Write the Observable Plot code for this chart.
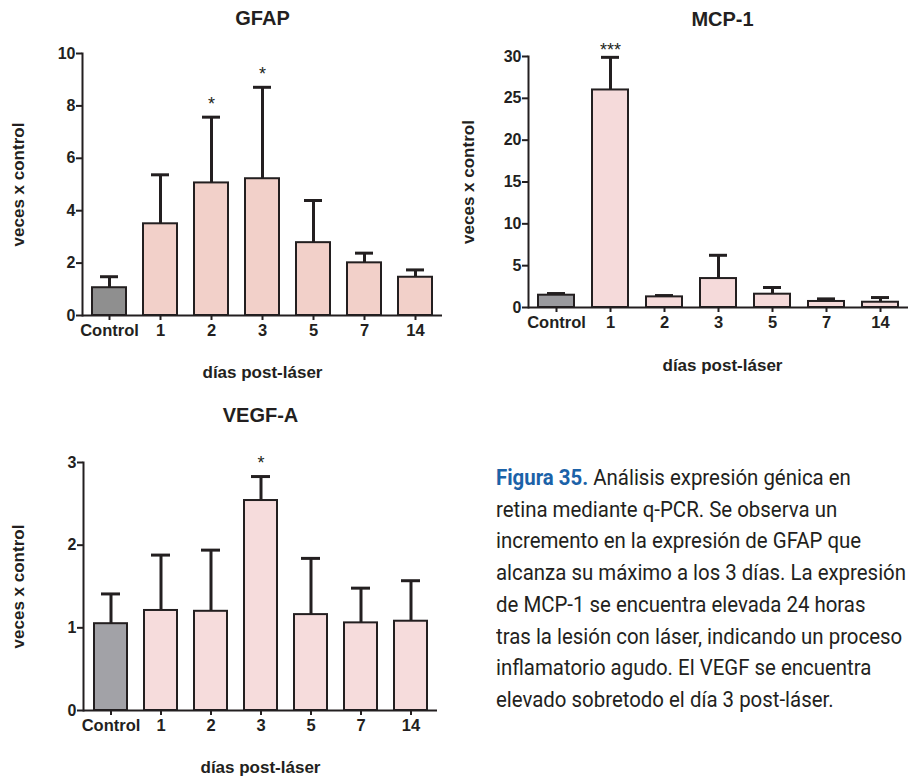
<!DOCTYPE html>
<html><head><meta charset="utf-8">
<script src="https://cdn.jsdelivr.net/npm/d3@7"></script>
<script src="https://cdn.jsdelivr.net/npm/@observablehq/plot@0.6"></script>
<style>
html,body{margin:0;padding:0;background:#fff;}
body{width:910px;height:778px;position:relative;overflow:hidden;}
.panel{position:absolute;}
#caption{position:absolute;left:496px;top:462px;font-family:"Liberation Sans Narrow","Roboto",sans-serif;font-size:22.5px;line-height:31.7px;color:#231f20;white-space:nowrap;}
#caption div{transform-origin:0 0;}
#caption b{color:#1b62a8;}
</style></head><body>
<div id="p1" class="panel" style="left:0;top:0"></div>
<div id="p2" class="panel" style="left:455px;top:0"></div>
<div id="p3" class="panel" style="left:0;top:390px"></div>
<div id="caption"></div>
<script>
const days = ["Control", "1", "2", "3", "5", "7", "14"];

const gfapMean = [1.06, 3.50, 5.06, 5.22, 2.78, 2.01, 1.46];
const gfapErr = [1.48, 5.37, 7.57, 8.71, 4.39, 2.38, 1.74];
const gfapStars = ["", "", "*", "*", "", "", ""];
const gfapTicks = [0, 2, 4, 6, 8, 10];

const mcpMean = [1.47, 26.0, 1.27, 3.46, 1.59, 0.72, 0.63];
const mcpErr = [1.67, 29.9, 1.43, 6.24, 2.39, 1.03, 1.19];
const mcpStars = ["", "***", "", "", "", "", ""];
const mcpTicks = [0, 5, 10, 15, 20, 25, 30];

const vegfMean = [1.05, 1.21, 1.20, 2.54, 1.16, 1.06, 1.08];
const vegfErr = [1.41, 1.88, 1.94, 2.83, 1.84, 1.48, 1.57];
const vegfStars = ["", "", "", "*", "", "", ""];
const vegfTicks = [0, 1, 2, 3];

const xLabel = "días post-láser";
const yLabel = "veces x control";

const captionLead = "Figura 35.";
const captionLines = [
  "Análisis expresión génica en",
  "retina mediante q-PCR. Se observa un",
  "incremento en la expresión de GFAP que",
  "alcanza su máximo a los 3 días. La expresión",
  "de MCP-1 se encuentra elevada 24 horas",
  "tras la lesión con láser, indicando un proceso",
  "inflamatorio agudo. El VEGF se encuentra",
  "elevado sobretodo el día 3 post-láser."
];

const ink = "#231f20";

function panel(o) {
  const data = days.map((d, i) => ({day: d, mean: o.mean[i], err: o.err[i], star: o.stars[i]}));
  return Plot.plot({
    width: o.width, height: o.height,
    marginTop: o.mt, marginRight: o.mr, marginBottom: o.mb, marginLeft: o.ml,
    style: {fontFamily: "'Liberation Sans', Arial, sans-serif", color: ink, background: "white", overflow: "visible"},
    x: {type: "band", domain: days, paddingInner: 0.34, paddingOuter: 0.17, label: null},
    y: {domain: [o.ticks[0], o.ticks[o.ticks.length - 1]], label: null},
    color: {type: "identity"},
    marks: [
      Plot.ruleX(data, {x: "day", y1: "mean", y2: "err", stroke: ink, strokeWidth: 3}),
      Plot.tickY(data, {x: "day", y: "err", stroke: ink, strokeWidth: 3, insetLeft: o.capInset, insetRight: o.capInset}),
      Plot.barY(data, {x: "day", y: "mean", fill: d => d.day === "Control" ? o.controlFill : o.fill, stroke: ink, strokeWidth: 2}),
      Plot.text(data.filter(d => d.star), {x: "day", y: "err", text: "star", dy: o.starDy, fontSize: 18, fill: ink}),
      Plot.ruleY([0], {stroke: ink, strokeWidth: 2}),
      Plot.frame({anchor: "left", stroke: ink, strokeWidth: 2}),
      Plot.axisY({ticks: o.ticks, tickFormat: d3.format("d"), tickSize: 6, tickPadding: 1, strokeWidth: 2, fontSize: 16, fontWeight: "bold", label: null}),
      Plot.axisX({tickSize: 5, tickPadding: 4, strokeWidth: 2, fontSize: 16.5, fontWeight: "bold", label: null}),
      Plot.text([o.title], {frameAnchor: "top", lineAnchor: "middle", textAnchor: "middle", dy: o.titleDy, dx: o.titleDx || 0, fontSize: 20, fontWeight: "bold", fill: ink}),
      Plot.text([xLabel], {frameAnchor: "bottom", lineAnchor: "middle", textAnchor: "middle", dy: o.xLabelDy, dx: o.titleDx || 0, fontSize: 17, fontWeight: "bold", fill: ink}),
      Plot.text([yLabel], {frameAnchor: "left", lineAnchor: "middle", textAnchor: "middle", dx: o.yLabelDx, rotate: -90, fontSize: 17, fontWeight: "bold", fill: ink})
    ]
  });
}

document.getElementById("p1").appendChild(panel({
  title: "GFAP", mean: gfapMean, err: gfapErr, stars: gfapStars, ticks: gfapTicks,
  width: 455, height: 390, mt: 53, mr: 13, mb: 75, ml: 82,
  controlFill: "#8f8f8f", fill: "#f2d0c9", titleDy: -35, xLabelDy: 57, yLabelDx: -64, starDy: -13, capInset: 8
}));
document.getElementById("p2").appendChild(panel({
  title: "MCP-1", mean: mcpMean, err: mcpErr, stars: mcpStars, ticks: mcpTicks,
  width: 455, height: 390, mt: 56, mr: 2, mb: 83, ml: 73,
  controlFill: "#9a9a9e", fill: "#f5dada", titleDy: -37, titleDx: 4, xLabelDy: 58, yLabelDx: -60, starDy: -7, capInset: 9
}));
document.getElementById("p3").appendChild(panel({
  title: "VEGF-A", mean: vegfMean, err: vegfErr, stars: vegfStars, ticks: vegfTicks,
  width: 455, height: 388, mt: 72, mr: 18, mb: 68, ml: 83,
  controlFill: "#a2a2a7", fill: "#f6dcdc", titleDy: -47, xLabelDy: 57, yLabelDx: -65, starDy: -13, capInset: 7
}));

// caption
const cap = document.getElementById("caption");
const cs = getComputedStyle(cap);
const ctx = document.createElement("canvas").getContext("2d");
ctx.font = `${cs.fontSize} ${cs.fontFamily}`;
const widest = d3.max(captionLines, (l, i) => ctx.measureText(i === 0 ? captionLead + " " + l : l).width);
const scale = Math.min(1, 410 / widest);
captionLines.forEach((line, i) => {
  const div = document.createElement("div");
  if (i === 0) {
    const b = document.createElement("b");
    b.textContent = captionLead;
    div.appendChild(b);
    div.appendChild(document.createTextNode(" " + line));
  } else {
    div.textContent = line;
  }
  div.style.transform = `scaleX(${scale})`;
  cap.appendChild(div);
});
</script>
</body></html>
